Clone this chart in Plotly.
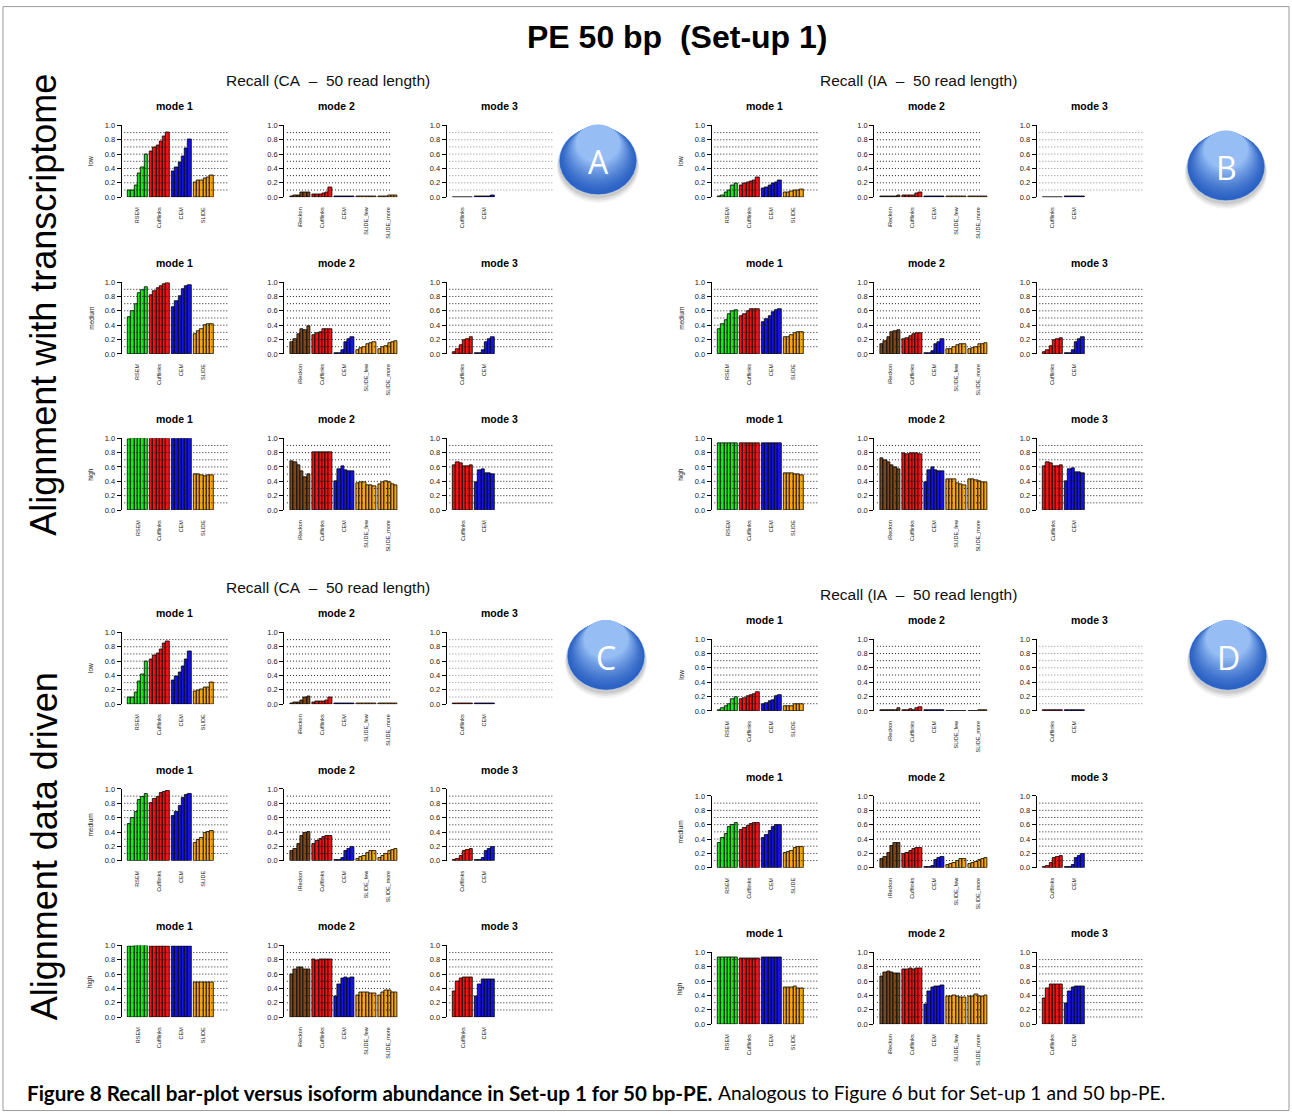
import plotly.graph_objects as go

W, H = 1292, 1116

# ---------------- data ----------------
MODE1_GROUPS = ["RSEM", "Cufflinks", "CEM", "SLIDE"]
MODE2_GROUPS = ["iReckon", "Cufflinks", "CEM", "SLIDE_few", "SLIDE_more"]
MODE3_GROUPS = ["Cufflinks", "CEM"]
ROW_LABELS = ["low", "medium", "high"]
Y_TICKS = [0.0, 0.2, 0.4, 0.6, 0.8, 1.0]
GRID_LEVELS = [0.1, 0.2, 0.3, 0.4, 0.5, 0.6, 0.7, 0.8, 0.9]

# Panel A: Recall (CA - 50 read length), alignment with transcriptome
A_LOW_M1 = [[0.09, 0.09, 0.17, 0.33, 0.42, 0.60], [0.64, 0.69, 0.72, 0.78, 0.84, 0.90],
            [0.36, 0.42, 0.49, 0.57, 0.68, 0.80], [0.20, 0.23, 0.23, 0.26, 0.27, 0.31]]
A_LOW_M2 = [[0.01, 0.02, 0.03, 0.06, 0.07, 0.07], [0.04, 0.04, 0.04, 0.05, 0.07, 0.13],
            [0.005, 0.005, 0.01, 0.01, 0.01, 0.01], [0.01, 0.01, 0.01, 0.01, 0.01, 0.01],
            [0.01, 0.01, 0.01, 0.02, 0.02, 0.02]]
A_LOW_M3 = [[0.003, 0.003, 0.003, 0.003, 0.003, 0.003], [0.005, 0.005, 0.01, 0.01, 0.015, 0.02]]
A_MED_M1 = [[0.51, 0.60, 0.69, 0.84, 0.89, 0.93], [0.82, 0.87, 0.91, 0.95, 0.97, 0.98],
            [0.65, 0.73, 0.80, 0.90, 0.94, 0.96], [0.28, 0.32, 0.35, 0.40, 0.41, 0.42]]
A_MED_M2 = [[0.16, 0.21, 0.27, 0.34, 0.33, 0.38], [0.26, 0.29, 0.31, 0.34, 0.35, 0.35],
            [0.005, 0.01, 0.05, 0.17, 0.20, 0.23], [0.05, 0.08, 0.10, 0.14, 0.15, 0.16],
            [0.06, 0.09, 0.11, 0.15, 0.16, 0.18]]
A_MED_M3 = [[0.03, 0.07, 0.12, 0.19, 0.21, 0.23], [0.005, 0.01, 0.05, 0.17, 0.20, 0.23]]
A_HIGH_M1 = [[0.99, 0.995, 1.0, 1.0, 1.0, 1.0], [1.0, 1.0, 1.0, 1.0, 1.0, 1.0],
             [1.0, 1.0, 1.0, 1.0, 1.0, 1.0], [0.50, 0.50, 0.49, 0.47, 0.48, 0.48]]
A_HIGH_M2 = [[0.68, 0.66, 0.62, 0.54, 0.46, 0.50], [0.81, 0.80, 0.80, 0.80, 0.81, 0.81],
             [0.40, 0.57, 0.61, 0.55, 0.54, 0.54], [0.37, 0.39, 0.39, 0.35, 0.34, 0.33],
             [0.36, 0.39, 0.40, 0.38, 0.36, 0.35]]
A_HIGH_M3 = [[0.62, 0.67, 0.65, 0.61, 0.61, 0.62], [0.39, 0.56, 0.57, 0.51, 0.51, 0.50]]

# Panel B: Recall (IA - 50 read length), alignment with transcriptome
B_LOW_M1 = [[0.01, 0.03, 0.06, 0.10, 0.16, 0.19], [0.17, 0.19, 0.21, 0.22, 0.23, 0.27],
            [0.12, 0.13, 0.16, 0.19, 0.21, 0.23], [0.07, 0.07, 0.08, 0.10, 0.10, 0.11]]
B_LOW_M2 = [[0.005, 0.005, 0.01, 0.01, 0.01, 0.03], [0.02, 0.02, 0.03, 0.03, 0.05, 0.07],
            [0.005, 0.005, 0.005, 0.005, 0.005, 0.005], [0.005, 0.005, 0.005, 0.01, 0.01, 0.01],
            [0.005, 0.01, 0.01, 0.01, 0.015, 0.015]]
B_LOW_M3 = [[0.003, 0.003, 0.003, 0.003, 0.003, 0.003], [0.005, 0.005, 0.005, 0.01, 0.01, 0.01]]
B_MED_M1 = [[0.35, 0.41, 0.47, 0.56, 0.60, 0.61], [0.53, 0.56, 0.59, 0.62, 0.63, 0.63],
            [0.44, 0.48, 0.53, 0.58, 0.61, 0.62], [0.24, 0.24, 0.26, 0.29, 0.30, 0.30]]
B_MED_M2 = [[0.13, 0.18, 0.24, 0.30, 0.32, 0.33], [0.20, 0.22, 0.25, 0.27, 0.29, 0.29],
            [0.005, 0.01, 0.04, 0.14, 0.17, 0.20], [0.06, 0.07, 0.09, 0.12, 0.13, 0.14],
            [0.07, 0.08, 0.10, 0.13, 0.14, 0.15]]
B_MED_M3 = [[0.02, 0.05, 0.11, 0.19, 0.20, 0.22], [0.005, 0.01, 0.05, 0.16, 0.20, 0.23]]
B_HIGH_M1 = [[0.93, 0.93, 0.93, 0.93, 0.93, 0.93], [0.93, 0.93, 0.93, 0.93, 0.93, 0.93],
             [0.93, 0.93, 0.93, 0.93, 0.93, 0.93], [0.51, 0.51, 0.51, 0.50, 0.50, 0.49]]
B_HIGH_M2 = [[0.72, 0.70, 0.67, 0.62, 0.59, 0.57], [0.79, 0.78, 0.79, 0.79, 0.79, 0.78],
             [0.39, 0.56, 0.60, 0.55, 0.54, 0.54], [0.43, 0.43, 0.43, 0.37, 0.36, 0.34],
             [0.43, 0.43, 0.42, 0.40, 0.39, 0.39]]
B_HIGH_M3 = [[0.61, 0.66, 0.65, 0.61, 0.61, 0.62], [0.40, 0.57, 0.58, 0.52, 0.52, 0.51]]

# Panel C: Recall (CA - 50 read length), alignment data driven
C_LOW_M1 = [[0.09, 0.09, 0.17, 0.32, 0.42, 0.59], [0.63, 0.68, 0.71, 0.77, 0.85, 0.88],
            [0.33, 0.39, 0.44, 0.53, 0.62, 0.73], [0.18, 0.19, 0.21, 0.24, 0.24, 0.30]]
C_LOW_M2 = [[0.01, 0.02, 0.03, 0.05, 0.09, 0.11], [0.03, 0.04, 0.04, 0.04, 0.05, 0.10],
            [0.005, 0.005, 0.01, 0.01, 0.005, 0.01], [0.008, 0.008, 0.008, 0.008, 0.008, 0.008],
            [0.01, 0.01, 0.01, 0.005, 0.005, 0.01]]
C_LOW_M3 = [[0.005, 0.005, 0.005, 0.005, 0.005, 0.005], [0.005, 0.005, 0.005, 0.01, 0.01, 0.01]]
C_MED_M1 = [[0.51, 0.60, 0.68, 0.84, 0.89, 0.93], [0.81, 0.86, 0.89, 0.94, 0.96, 0.97],
            [0.62, 0.68, 0.76, 0.88, 0.91, 0.93], [0.25, 0.29, 0.32, 0.38, 0.40, 0.41]]
C_MED_M2 = [[0.13, 0.17, 0.24, 0.35, 0.39, 0.40], [0.24, 0.27, 0.30, 0.33, 0.34, 0.34],
            [0.005, 0.01, 0.04, 0.14, 0.16, 0.19], [0.03, 0.05, 0.07, 0.11, 0.13, 0.14],
            [0.04, 0.06, 0.09, 0.13, 0.15, 0.16]]
C_MED_M3 = [[0.01, 0.03, 0.06, 0.13, 0.15, 0.16], [0.005, 0.01, 0.04, 0.14, 0.17, 0.19]]
C_HIGH_M1 = [[0.99, 0.99, 1.0, 1.0, 1.0, 1.0], [0.99, 0.99, 0.99, 0.99, 0.99, 0.99],
             [0.99, 0.99, 0.99, 0.99, 0.99, 0.99], [0.48, 0.49, 0.49, 0.49, 0.49, 0.49]]
C_HIGH_M2 = [[0.60, 0.67, 0.70, 0.69, 0.67, 0.66], [0.80, 0.79, 0.80, 0.81, 0.81, 0.81],
             [0.29, 0.46, 0.54, 0.55, 0.54, 0.55], [0.31, 0.34, 0.35, 0.34, 0.33, 0.33],
             [0.31, 0.35, 0.37, 0.37, 0.35, 0.35]]
C_HIGH_M3 = [[0.36, 0.50, 0.54, 0.55, 0.55, 0.56], [0.29, 0.46, 0.52, 0.53, 0.53, 0.53]]

# Panel D: Recall (IA - 50 read length), alignment data driven
D_LOW_M1 = [[0.01, 0.04, 0.06, 0.10, 0.16, 0.19], [0.17, 0.18, 0.20, 0.22, 0.23, 0.26],
            [0.10, 0.11, 0.13, 0.15, 0.20, 0.22], [0.06, 0.06, 0.07, 0.09, 0.09, 0.10]]
D_LOW_M2 = [[0.005, 0.005, 0.005, 0.01, 0.01, 0.04], [0.005, 0.01, 0.02, 0.01, 0.04, 0.05],
            [0.005, 0.005, 0.005, 0.005, 0.005, 0.005], [0.003, 0.003, 0.003, 0.003, 0.003, 0.003],
            [0.003, 0.003, 0.003, 0.005, 0.005, 0.005]]
D_LOW_M3 = [[0.005, 0.005, 0.005, 0.005, 0.005, 0.005], [0.005, 0.005, 0.01, 0.01, 0.01, 0.01]]
D_MED_M1 = [[0.35, 0.41, 0.47, 0.57, 0.60, 0.62], [0.52, 0.55, 0.58, 0.61, 0.62, 0.63],
            [0.42, 0.46, 0.51, 0.57, 0.60, 0.60], [0.21, 0.22, 0.24, 0.28, 0.29, 0.29]]
D_MED_M2 = [[0.12, 0.15, 0.21, 0.30, 0.34, 0.35], [0.19, 0.20, 0.23, 0.26, 0.27, 0.28],
            [0.005, 0.01, 0.03, 0.11, 0.13, 0.15], [0.04, 0.05, 0.07, 0.10, 0.12, 0.12],
            [0.05, 0.06, 0.08, 0.11, 0.12, 0.13]]
D_MED_M3 = [[0.01, 0.02, 0.07, 0.13, 0.15, 0.16], [0.005, 0.01, 0.04, 0.13, 0.16, 0.19]]
D_HIGH_M1 = [[0.93, 0.93, 0.93, 0.93, 0.93, 0.93], [0.92, 0.92, 0.92, 0.92, 0.92, 0.92],
             [0.93, 0.93, 0.93, 0.93, 0.93, 0.93], [0.51, 0.51, 0.51, 0.52, 0.50, 0.50]]
D_HIGH_M2 = [[0.66, 0.72, 0.74, 0.72, 0.71, 0.71], [0.77, 0.76, 0.78, 0.77, 0.78, 0.78],
             [0.28, 0.45, 0.51, 0.53, 0.53, 0.54], [0.39, 0.39, 0.40, 0.38, 0.37, 0.37],
             [0.39, 0.39, 0.41, 0.39, 0.39, 0.40]]
D_HIGH_M3 = [[0.36, 0.50, 0.55, 0.56, 0.55, 0.56], [0.29, 0.45, 0.51, 0.52, 0.52, 0.52]]

PANELS = {
    "A": [[A_LOW_M1, A_LOW_M2, A_LOW_M3], [A_MED_M1, A_MED_M2, A_MED_M3], [A_HIGH_M1, A_HIGH_M2, A_HIGH_M3]],
    "B": [[B_LOW_M1, B_LOW_M2, B_LOW_M3], [B_MED_M1, B_MED_M2, B_MED_M3], [B_HIGH_M1, B_HIGH_M2, B_HIGH_M3]],
    "C": [[C_LOW_M1, C_LOW_M2, C_LOW_M3], [C_MED_M1, C_MED_M2, C_MED_M3], [C_HIGH_M1, C_HIGH_M2, C_HIGH_M3]],
    "D": [[D_LOW_M1, D_LOW_M2, D_LOW_M3], [D_MED_M1, D_MED_M2, D_MED_M3], [D_HIGH_M1, D_HIGH_M2, D_HIGH_M3]],
}
PANEL_TITLES = {
    "A": "Recall (CA\u00a0\u00a0\u2013\u00a0\u00a050 read length)",
    "B": "Recall (IA\u00a0\u00a0\u2013\u00a0\u00a050 read length)",
    "C": "Recall (CA\u00a0\u00a0\u2013\u00a0\u00a050 read length)",
    "D": "Recall (IA\u00a0\u00a0\u2013\u00a0\u00a050 read length)",
}

# ---------------- styling ----------------
METHOD_COLORS = {
    "RSEM": "#1fe61f", "Cufflinks": "#f01414", "CEM": "#1414e6",
    "SLIDE": "#f5a516", "SLIDE_few": "#f5a516", "SLIDE_more": "#f5a516",
    "iReckon": "#7a481c",
}
FONT = "Liberation Sans"

# layout in pixels: left edge of each y-axis column and top of each row (value 1.0)
COL_LEFT = {"A": [121.7, 284.3, 446.7], "B": [711.7, 874.3, 1036.7],
            "C": [121.7, 284.3, 446.7], "D": [711.7, 874.3, 1036.7]}
ROW_TOP = {"A": [125.7, 282.3, 438.3], "B": [125.7, 282.3, 438.3],
           "C": [632.3, 788.7, 945.0], "D": [639.0, 795.7, 952.0]}
ROW_H = 71.7
PX_PER_UNIT = 3.27      # width of one bar
CELL_W = 116.0          # pixel width of each subplot domain
BAR_OFFSET = 1.9        # first bar start (bar units)
GROUP_GAP = 0.7         # space between groups (bar units)
GRID_X0, GRID_X1 = 0.8, 32.3

# vertical page calibration (the rendered page is slightly squeezed vertically)
Y_SCALE, Y_SHIFT = 0.9911, 4.4


def px_x(px):
    return px / W


def px_y(py):
    return 1 - ((py - Y_SHIFT) / Y_SCALE) / H


fig = go.Figure()
annotations = []
shapes = []
axis_id = 0

for panel, rows in PANELS.items():
    for r, row in enumerate(rows):
        for m, groups_vals in enumerate(row):
            axis_id += 1
            sfx = "" if axis_id == 1 else str(axis_id)
            names = [MODE1_GROUPS, MODE2_GROUPS, MODE3_GROUPS][m]
            left = COL_LEFT[panel][m]
            top = ROW_TOP[panel][r]

            xs, ys, cols, centers = [], [], [], []
            for g, (name, vals) in enumerate(zip(names, groups_vals)):
                start = BAR_OFFSET + g * (6 + GROUP_GAP)
                centers.append(start + 3)
                for i, v in enumerate(vals):
                    xs.append(start + i + 0.5)
                    ys.append(v)
                    cols.append(METHOD_COLORS[name])

            # dotted reference lines (the lower-row mode 3 panels print them lighter)
            grid_col = "#8a8a8a" if (r == 0 and m == 2) else "#222222"
            gx, gy = [], []
            for lv in GRID_LEVELS:
                gx += [GRID_X0, GRID_X1, None]
                gy += [lv, lv, None]
            fig.add_trace(go.Scatter(
                x=gx, y=gy, mode="lines", xaxis="x" + sfx, yaxis="y" + sfx,
                line=dict(color=grid_col, width=1, dash="1px,2px"),
                hoverinfo="skip", showlegend=False))

            fig.add_trace(go.Bar(
                x=xs, y=ys, width=1.0, xaxis="x" + sfx, yaxis="y" + sfx,
                marker=dict(color=cols, line=dict(color="black", width=0.8)),
                showlegend=False))

            xdom = [px_x(left), px_x(left + CELL_W)]
            ydom = [px_y(top + ROW_H), px_y(top)]
            fig.layout["xaxis" + sfx] = dict(
                domain=xdom, range=[0, CELL_W / PX_PER_UNIT], anchor="y" + sfx,
                showgrid=False, zeroline=False, showline=False, ticks="",
                tickmode="array", tickvals=centers, ticktext=names, tickangle=-90,
                tickfont=dict(family=FONT, size=5.5, color="#222222"),
                ticklabelstandoff=8, fixedrange=True)
            fig.layout["yaxis" + sfx] = dict(
                domain=ydom, range=[0, 1.0], anchor="x" + sfx,
                showgrid=False, zeroline=False, showline=True, linecolor="black",
                linewidth=1.2, ticks="outside", ticklen=4, tickwidth=1, tickcolor="black",
                tickmode="array", tickvals=Y_TICKS, ticktext=[f"{t:.1f}" for t in Y_TICKS],
                tickfont=dict(family=FONT, size=7.5, color="#222222"), fixedrange=True)

            # subplot title
            annotations.append(dict(
                text="<b>mode %d</b>" % (m + 1), x=px_x(left + 52.5), y=px_y(top - 19),
                xref="paper", yref="paper", showarrow=False, xanchor="center", yanchor="middle",
                font=dict(family=FONT, size=10.5, color="black")))
            if m == 0:
                annotations.append(dict(
                    text=ROW_LABELS[r], x=px_x(left - 31), y=px_y(top + ROW_H / 2),
                    xref="paper", yref="paper", showarrow=False, textangle=-90,
                    xanchor="center", yanchor="middle",
                    font=dict(family=FONT, size=6.5, color="#222222")))

# panel headings
HEAD_POS = {"A": (327.5, 81), "B": (918, 81), "C": (327.5, 587), "D": (918, 594)}
for p, (hx, hy) in HEAD_POS.items():
    annotations.append(dict(
        text=PANEL_TITLES[p], x=px_x(hx), y=px_y(hy), xref="paper", yref="paper",
        showarrow=False, xanchor="center", yanchor="middle",
        font=dict(family=FONT, size=15.5, color="#111111")))

# panel badges: glossy blue ellipses with a soft drop shadow
BADGES = {"A": (598, 161), "B": (1226, 167), "C": (606, 656), "D": (1228, 656)}
DARK, LIGHT = (44, 98, 196), (150, 190, 245)
N_LAYERS = 14
for p, (cx, cy) in BADGES.items():
    rx, ry = 39, 34
    for dy, s, a in [(6, 1.06, 0.05), (4.5, 1.04, 0.07), (3, 1.02, 0.09)]:
        shapes.append(dict(
            type="circle", xref="paper", yref="paper",
            x0=px_x(cx - rx * s), x1=px_x(cx + rx * s),
            y0=px_y(cy + dy + ry * s), y1=px_y(cy + dy - ry * s),
            fillcolor="rgba(0,0,0,%.2f)" % a, line=dict(width=0), layer="above"))
    shapes.append(dict(
        type="circle", xref="paper", yref="paper",
        x0=px_x(cx - rx), x1=px_x(cx + rx), y0=px_y(cy + ry), y1=px_y(cy - ry),
        fillcolor="#8fb6ee", line=dict(width=0), layer="above"))
    for k in range(N_LAYERS):
        t = k / (N_LAYERS - 1)
        s = 0.985 - 0.42 * t
        dy = -ry * 0.5 * t
        col = tuple(int(DARK[j] + (LIGHT[j] - DARK[j]) * t ** 1.3) for j in range(3))
        shapes.append(dict(
            type="circle", xref="paper", yref="paper",
            x0=px_x(cx - rx * s), x1=px_x(cx + rx * s),
            y0=px_y(cy + dy + ry * s), y1=px_y(cy + dy - ry * s),
            fillcolor="rgb(%d,%d,%d)" % col, line=dict(width=0), layer="above"))
    annotations.append(dict(
        text=p, x=px_x(cx), y=px_y(cy + 1), xref="paper", yref="paper", showarrow=False,
        xanchor="center", yanchor="middle", font=dict(family="Open Sans", size=32, color="white")))

# figure title, side labels and caption
annotations.append(dict(
    text="<b>PE 50 bp\u00a0\u00a0(Set-up 1)</b>", x=px_x(677), y=px_y(37), xref="paper", yref="paper",
    showarrow=False, xanchor="center", yanchor="middle",
    font=dict(family=FONT, size=32, color="black")))
annotations.append(dict(
    text="Alignment with transcriptome", x=px_x(44), y=px_y(305), xref="paper", yref="paper",
    showarrow=False, textangle=-90, xanchor="center", yanchor="middle",
    font=dict(family=FONT, size=36, color="black")))
annotations.append(dict(
    text="Alignment data driven", x=px_x(44), y=px_y(846), xref="paper", yref="paper",
    showarrow=False, textangle=-90, xanchor="center", yanchor="middle",
    font=dict(family=FONT, size=36, color="black")))
annotations.append(dict(
    text="<b>Figure 8 Recall bar-plot versus isoform abundance in Set-up 1 for 50 bp-PE.</b>",
    x=px_x(25), y=px_y(1092), xref="paper", yref="paper", showarrow=False,
    xanchor="left", yanchor="middle", font=dict(family="Lato", size=20.6, color="black")))
annotations.append(dict(
    text="Analogous to Figure 6 but for Set-up 1 and 50 bp-PE.",
    x=px_x(716), y=px_y(1092), xref="paper", yref="paper", showarrow=False,
    xanchor="left", yanchor="middle", font=dict(family="Lato", size=19.2, color="black")))

# outer frame
shapes.append(dict(
    type="path", xref="paper", yref="paper", layer="below",
    path="M {x0},{y0} L {x1},{y0} L {x1},{y1} L {x0},{y1} Z".format(
        x0=px_x(3), x1=px_x(1289), y0=px_y(7), y1=px_y(1110)),
    line=dict(color="#9a9a9a", width=1)))

fig.update_layout(
    width=W, height=H, margin=dict(l=0, r=0, t=0, b=0),
    paper_bgcolor="white", plot_bgcolor="rgba(0,0,0,0)",
    barmode="overlay", bargap=0, showlegend=False,
    annotations=annotations, shapes=shapes,
)

fig.write_html("out.html", config={"displayModeBar": False})
